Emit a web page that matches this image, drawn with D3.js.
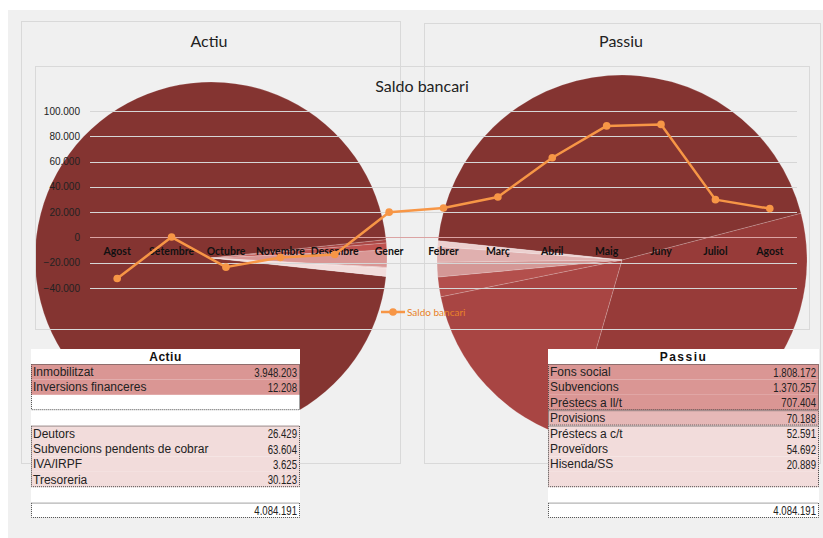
<!DOCTYPE html>
<html>
<head>
<meta charset="utf-8">
<script src="https://cdn.jsdelivr.net/npm/d3@7"></script>
<style>
  body { margin: 0; background: #fff; }
  svg { display: block; }
</style>
</head>
<body>
<svg width="823" height="538"></svg>
<script>
// balance data
const actiuLabels = ["Inmobilitzat", "Inversions financeres", "Deutors", "Subvencions pendents de cobrar", "IVA/IRPF", "Tresoreria"];
const actiuValues = [3948203, 12208, 26429, 63604, 3625, 30123];
const passiuLabels = ["Fons social", "Subvencions", "Préstecs a ll/t", "Provisions", "Préstecs a c/t", "Proveïdors", "Hisenda/SS"];
const passiuValues = [1808172, 1370257, 707404, 70188, 52591, 54692, 20889];
const totalLabel = "4.084.191";

// saldo bancari per mes
const months = ["Agost", "Setembre", "Octubre", "Novembre", "Desembre", "Gener", "Febrer", "Març", "Abril", "Maig", "Juny", "Juliol", "Agost"];
const saldo = [-32500, 300, -23500, -15800, -13500, 20000, 23300, 32000, 63000, 88200, 89400, 29900, 22800];
const yTicks = [-40000, -20000, 0, 20000, 40000, 60000, 80000, 100000];

const svg = d3.select("svg");
const fmt = d3.formatLocale({ decimal: ",", thousands: ".", grouping: [3], currency: ["", "€"] }).format(",.0f");

// page background + chart frames
svg.append("rect").attr("x", 8).attr("y", 10).attr("width", 815).attr("height", 528).attr("fill", "#f0f0f0");

const frames = [
    { x: 21, y: 21, w: 379, h: 442, title: "Actiu", tx: 209 },
    { x: 424, y: 23, w: 396, h: 440, title: "Passiu", tx: 621 }
];
svg.selectAll(".frame").data(frames).enter().append("rect")
    .attr("x", d => d.x + 0.5).attr("y", d => d.y + 0.5)
    .attr("width", d => d.w).attr("height", d => d.h)
    .attr("fill", "none").attr("stroke", "#d9d9d9");
svg.selectAll(".ftitle").data(frames).enter().append("text")
    .attr("x", d => d.tx).attr("y", 47)
    .attr("text-anchor", "middle")
    .style("font-family", "Lato, sans-serif").style("font-size", "16px").attr("fill", "#222")
    .text(d => d.title);

// pies
const actiuColors = ["#843431", "#a84543", "#bf5350", "#d99694", "#e6b9b8", "#f2dcdb"];
const passiuColors = ["#843431", "#973b39", "#a84543", "#b34f4c", "#d49896", "#e0b0af", "#ecd0cf"];

function drawPie(values, colors, cx, cy, r, start) {
    const a0 = start * Math.PI / 180;
    const pie = d3.pie().sort(null).startAngle(a0).endAngle(a0 + 2 * Math.PI);
    const arc = d3.arc().innerRadius(0).outerRadius(r);
    svg.append("g").attr("transform", `translate(${cx},${cy})`)
        .selectAll("path").data(pie(values)).enter().append("path")
        .attr("d", arc)
        .attr("fill", (d, i) => colors[i])
        .attr("stroke", "rgba(255,255,255,0.25)")
        .attr("stroke-width", 0.7);
}
drawPie(actiuValues, actiuColors, 211, 258, 176, 96);
drawPie(passiuValues, passiuColors, 622, 260, 185, 276);

// Saldo bancari chart
svg.append("rect").attr("x", 35.5).attr("y", 66.5).attr("width", 774).attr("height", 263)
    .attr("fill", "none").attr("stroke", "#d9d9d9");
svg.append("text").attr("x", 422).attr("y", 92).attr("text-anchor", "middle")
    .style("font-family", "Lato, sans-serif").style("font-size", "16px").attr("fill", "#222")
    .text("Saldo bancari");

const x = d3.scalePoint().domain(d3.range(months.length)).range([90, 797]).padding(0.5);
const y = d3.scaleLinear().domain([-40000, 100000]).range([288, 111]);

svg.append("g").selectAll("line").data(yTicks).enter().append("line")
    .attr("x1", 90).attr("x2", 797)
    .attr("y1", d => Math.round(y(d)) + 0.5).attr("y2", d => Math.round(y(d)) + 0.5)
    .attr("stroke", d => d === 0 ? "#dba3a3" : "#d6d6d6");

svg.append("g").selectAll("text").data(yTicks).enter().append("text")
    .attr("x", 80).attr("y", d => y(d) + 3.5)
    .attr("text-anchor", "end")
    .style("font-family", "'Liberation Sans', Arial, sans-serif").style("font-size", "10px").attr("fill", "#222")
    .text(d => fmt(d));

svg.append("g").selectAll("text").data(months).enter().append("text")
    .attr("x", (d, i) => x(i)).attr("y", 255)
    .attr("text-anchor", "middle")
    .style("font-family", "Lato, sans-serif").style("font-size", "10.5px").style("font-weight", "bold").attr("fill", "#111")
    .text(d => d);

const line = d3.line().x((d, i) => x(i)).y(d => y(d));
svg.append("path").datum(saldo).attr("d", line)
    .attr("fill", "none").attr("stroke", "#f79646").attr("stroke-width", 2.5).attr("stroke-linejoin", "round");
svg.append("g").selectAll("circle").data(saldo).enter().append("circle")
    .attr("cx", (d, i) => x(i)).attr("cy", d => y(d)).attr("r", 3.8)
    .attr("fill", "#f79646");

// legend
const lg = svg.append("g").attr("transform", "translate(381,312)");
lg.append("line").attr("x1", 0).attr("x2", 24).attr("stroke", "#f79646").attr("stroke-width", 2.5);
lg.append("circle").attr("cx", 12).attr("r", 3.8).attr("fill", "#f79646");
lg.append("text").attr("x", 26).attr("y", 3.5)
    .style("font-family", "Lato, sans-serif").style("font-size", "10px").attr("fill", "#e8822a")
    .text("Saldo bancari");

// tables
const rowH = 15.4;
function drawTable(tx, tw, title, spacing, labels, values, blocks) {
    const g = svg.append("g");
    g.append("rect").attr("x", tx).attr("y", 349).attr("width", tw).attr("height", 169).attr("fill", "#fff");
    g.append("text").attr("x", tx + tw / 2).attr("y", 361)
        .attr("text-anchor", "middle")
        .style("font-family", "'Liberation Sans', Arial, sans-serif").style("font-size", "12px")
        .style("font-weight", "bold").style("letter-spacing", spacing).attr("fill", "#111")
        .text(title);
    blocks.forEach(b => {
        const top = 364 + b.start * rowH;
        b.rows.forEach((ri, k) => {
            const ry = top + k * rowH;
            if (b.fills[k]) {
                g.append("rect").attr("x", tx).attr("y", ry).attr("width", tw).attr("height", rowH).attr("fill", b.fills[k]);
            }
            if (ri !== null) {
                g.append("text").attr("x", tx + 2).attr("y", ry + 12)
                    .style("font-family", "'Liberation Sans', Arial, sans-serif").style("font-size", "12px").attr("fill", "#222")
                    .text(labels[ri]);
                g.append("text").attr("transform", `translate(${tx + tw - 3},${ry + 12.5}) scale(0.8,1)`)
                    .attr("text-anchor", "end")
                    .style("font-family", "'Liberation Sans', Arial, sans-serif").style("font-size", "12px").attr("fill", "#222")
                    .text(fmt(values[ri]));
            }
        });
        g.append("rect").attr("x", tx + 0.5).attr("y", top + 0.5).attr("width", tw - 1).attr("height", b.rows.length * rowH - 1)
            .attr("fill", "none").attr("stroke", "#444").attr("stroke-dasharray", "1,1");
    });
    const tt = 364 + 9 * rowH;
    g.append("rect").attr("x", tx + 0.5).attr("y", tt + 0.5).attr("width", tw - 1).attr("height", rowH - 1)
        .attr("fill", "none").attr("stroke", "#444").attr("stroke-dasharray", "1,1");
    g.append("text").attr("transform", `translate(${tx + tw - 3},${tt + 12.5}) scale(0.8,1)`)
        .attr("text-anchor", "end")
        .style("font-family", "'Liberation Sans', Arial, sans-serif").style("font-size", "12px").attr("fill", "#222")
        .text(totalLabel);
}

const p1 = "#da9694", p2 = "#e6b8b7", p3 = "#f2dcdb";
drawTable(31, 269, "Actiu", "0.5px", actiuLabels, actiuValues, [
    { start: 0, rows: [0, 1, null], fills: [p1, p1, null] },
    { start: 4, rows: [2, 3, 4, 5], fills: [p3, p3, p3, p3] }
]);
drawTable(548, 271, "Passiu", "1.5px", passiuLabels, passiuValues, [
    { start: 0, rows: [0, 1, 2], fills: [p1, p1, p1] },
    { start: 3, rows: [3], fills: [p2] },
    { start: 4, rows: [4, 5, 6, null], fills: [p3, p3, p3, p3] }
]);
</script>
</body>
</html>
